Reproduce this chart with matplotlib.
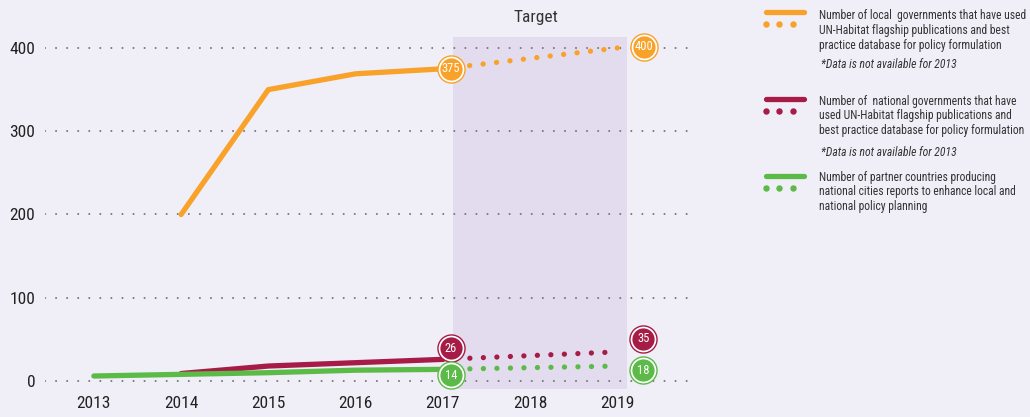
import numpy as np
import matplotlib
matplotlib.use('Agg')
from matplotlib import pyplot as plt
from matplotlib import font_manager
from matplotlib.lines import Line2D
import matplotlib.transforms as mtransforms

# pick a narrow font if one is around
names = set(f.name for f in font_manager.fontManager.ttflist)
fam = 'DejaVu Sans'
for cand in ['Roboto Condensed', 'Liberation Sans Narrow', 'DejaVu Sans Condensed', 'Roboto']:
    if cand in names:
        fam = cand
        break
plt.rcParams['font.family'] = [fam, 'DejaVu Sans']

# data
years = [2013, 2014, 2015, 2016, 2017, 2018, 2019]
local_years = [2014, 2015, 2016, 2017]
local_vals = [200, 350, 369, 375]
local_target = [375, 400]
national_years = [2014, 2015, 2016, 2017]
national_vals = [9, 18, 22, 26]
national_target = [26, 35]
partner_years = [2013, 2014, 2015, 2016, 2017]
partner_vals = [6, 8, 10, 13, 14]
partner_target = [14, 18]
target_years = [2017, 2019]

c_local = '#f8a22a'
c_nat = '#a61c46'
c_part = '#5cba48'
bg = '#f0eef7'
shade = '#e3dbee'

fig = plt.figure(figsize=(10.30, 4.17), dpi=100, facecolor=bg)
ax = fig.add_axes([45/1030, 22/417, 650/1030, 365/417])
ax.set_facecolor(bg)
ax.set_xlim(2012.44, 2019.89)
ax.set_ylim(-16.8, 421.6)
for s in ax.spines.values():
    s.set_visible(False)

# target band
ax.fill_between([2017.12, 2019.11], -9.6, 413, color=shade, lw=0, zorder=0)
ax.text(2018.07, 428, 'Target', ha='center', va='bottom', fontsize=12.5, color='#333333', clip_on=False)

for yv in [0, 100, 200, 300, 400]:
    ax.plot([2012.44, 2019.89], [yv, yv], color='#7a7a7a', lw=1.5,
            linestyle=(0, (0.01, 5.3)), dash_capstyle='round', zorder=1)

ax.set_yticks([0, 100, 200, 300, 400])
ax.set_xticks(years)
ax.tick_params(length=0, labelsize=12.5, colors='#222222')
ax.tick_params(axis='y', pad=7)
ax.tick_params(axis='x', pad=1)

lw = 3.8
dots = (0, (0.01, 2.55))
series = [
    (local_years, local_vals, local_target, c_local),
    (national_years, national_vals, national_target, c_nat),
    (partner_years, partner_vals, partner_target, c_part),
]
for xs, ys, tgt, col in series:
    ax.plot(xs, ys, color=col, lw=lw, solid_capstyle='round', zorder=3)
    ax.plot(target_years, tgt, color=col, lw=lw, linestyle=dots,
            dash_capstyle='round', zorder=3)


def bubble(x, y, txt, col, dx=0, dy=0):
    tr = mtransforms.offset_copy(ax.transData, fig=fig, x=dx, y=dy, units='dots')
    ax.plot([x], [y], 'o', ms=19.5, mfc='white', mec=col, mew=1.0, transform=tr, zorder=5, clip_on=False)
    ax.plot([x], [y], 'o', ms=16, mfc=col, mec=col, mew=0, transform=tr, zorder=6, clip_on=False)
    ax.text(x, y, txt, color='white', fontsize=9, ha='center', va='center',
            transform=tr, zorder=7)


bubble(2017, local_target[0], str(local_target[0]), c_local, dx=8)
bubble(2019, local_target[1], str(local_target[1]), c_local, dx=27, dy=1)
bubble(2017, national_target[0], str(national_target[0]), c_nat, dx=8, dy=11)
bubble(2019, national_target[1], str(national_target[1]), c_nat, dx=26, dy=13)
bubble(2017, partner_target[0], str(partner_target[0]), c_part, dx=8, dy=-6)
bubble(2019, partner_target[1], str(partner_target[1]), c_part, dx=26, dy=-4)

# legend drawn by hand in pixel coords
H = 417.0
W = 1030.0


def fx(px):
    return px / W


def fy(py):
    return 1 - py / H


legend_items = [
    (c_local, 12, 24, ['Number of local  governments that have used',
                       'UN-Habitat flagship publications and best',
                       'practice database for policy formulation'], 16, 65),
    (c_nat, 99, 111, ['Number of  national governments that have',
                      'used UN-Habitat flagship publications and',
                      'best practice database for policy formulation'], 101, 152),
    (c_part, 176, 188, ['Number of partner countries producing',
                        'national cities reports to enhance local and',
                        'national policy planning'], 177, None),
]
for col, ly, dy_, lines, ty, ny in legend_items:
    fig.add_artist(Line2D([fx(766), fx(804)], [fy(ly), fy(ly)], color=col, lw=3.8,
                          solid_capstyle='round', transform=fig.transFigure))
    fig.add_artist(Line2D([fx(766), fx(779), fx(793)], [fy(dy_)] * 3, color=col, lw=0,
                          marker='o', ms=3.6, transform=fig.transFigure))
    for i, t in enumerate(lines):
        fig.text(fx(819), fy(ty + 14.6 * i), t, fontsize=8.4, color='#333333', va='center')
    if ny is not None:
        fig.text(fx(821), fy(ny), '*Data is not available for 2013', fontsize=8.4,
                 style='italic', color='#333333', va='center')

fig.savefig('out.png', dpi=100, facecolor=bg)
